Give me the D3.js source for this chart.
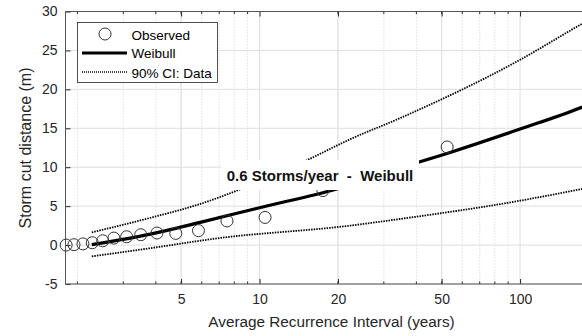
<!DOCTYPE html>
<html><head><meta charset="utf-8">
<script src="https://cdn.jsdelivr.net/npm/d3@7"></script>
<style>
html,body{margin:0;padding:0;background:#fff;}
svg{display:block;font-family:"Liberation Sans",Arial,sans-serif;}
</style></head>
<body><svg id="c" width="582" height="336"></svg>
<script>
// ---- data ----
const obsARI = [52.5, 17.5, 10.5, 7.5, 5.83, 4.77, 4.04, 3.5, 3.09, 2.76, 2.5, 2.28, 2.1, 1.94, 1.81];
const obsCut = [12.6, 7.0, 3.55, 3.1, 1.85, 1.5, 1.55, 1.33, 1.07, 0.9, 0.55, 0.3, 0.15, 0.05, 0.0];
const fitARI = [2.27, 3.81, 5.92, 10, 19.8, 41.3, 53.9, 100, 172.5, 200];
const fitCut = [0.05, 1.4, 2.92, 4.8, 7.2, 10.7, 11.9, 14.9, 17.7, 18.6];
const ciUpARI = [2.27, 3.81, 5.92, 8.56, 15.2, 22.3, 34.6, 100, 172.5, 200];
const ciUpCut = [1.63, 3.5, 5.28, 7.25, 10.9, 13.6, 16.3, 23.8, 28.4, 29.6];
const ciLoARI = [2.27, 3.81, 6.87, 22.3, 34.6, 100, 172.5, 200];
const ciLoCut = [-1.45, -0.4, 0.86, 2.5, 3.35, 5.7, 7.2, 7.6];
const xTicks = [5, 10, 20, 50, 100];
const xTickLabels = ["5", "10", "20", "50", "100"];
const xMinor = [2,3,4,5,6,7,8,9,20,30,40,50,60,70,80,90,200];
const yTicks = [-5, 0, 5, 10, 15, 20, 25, 30];
const yTickLabels = ["-5", "0", "5", "10", "15", "20", "25", "30"];
const legendLabels = ["Observed", "Weibull", "90% CI: Data"];
const annotation = "0.6 Storms/year  -  Weibull";

// ---- layout ----
const L = 65.5, R = 598.5, T = 11.5, B = 284;
const svg = d3.select("#c");
const x = d3.scaleLog().domain([1.8, 200]).range([L, R]);
const y = d3.scaleLinear().domain([-5, 30]).range([B, T]);
const ink = "#262626";

svg.append("defs").append("clipPath").attr("id","clip")
  .append("rect").attr("x",L).attr("y",T).attr("width",R-L).attr("height",B-T);

// grid
const g = svg.append("g");
g.selectAll(".mg").data(xMinor).join("line")
  .attr("x1",d=>x(d)).attr("x2",d=>x(d)).attr("y1",T).attr("y2",B)
  .attr("stroke","#cfcfcf").attr("stroke-width",1).attr("stroke-dasharray","1,2");
g.selectAll(".xg").data(xTicks).join("line")
  .attr("x1",d=>x(d)).attr("x2",d=>x(d)).attr("y1",T).attr("y2",B)
  .attr("stroke","#dedede").attr("stroke-width",1);
g.selectAll(".yg").data(yTicks).join("line")
  .attr("x1",L).attr("x2",R).attr("y1",d=>y(d)).attr("y2",d=>y(d))
  .attr("stroke","#dedede").attr("stroke-width",1);

// axes
const xAxisB = d3.axisBottom(x).tickValues(xTicks).tickFormat((d,i)=>xTickLabels[i]).tickSize(-5).tickPadding(10);
const gx = svg.append("g").attr("transform",`translate(0,${B})`).call(xAxisB);
gx.select(".domain").remove();
gx.selectAll("line").attr("stroke",ink);
gx.selectAll("text").attr("font-size",14).attr("fill",ink).attr("font-family","Liberation Sans, Arial, sans-serif");
// minor ticks bottom/top
svg.append("g").selectAll("line").data(xMinor).join("line")
  .attr("x1",d=>x(d)).attr("x2",d=>x(d)).attr("y1",B).attr("y2",B-2.5).attr("stroke",ink);
svg.append("g").selectAll("line").data(xMinor).join("line")
  .attr("x1",d=>x(d)).attr("x2",d=>x(d)).attr("y1",T).attr("y2",T+2.5).attr("stroke",ink);
const gxt = svg.append("g").attr("transform",`translate(0,${T})`).call(d3.axisTop(x).tickValues(xTicks).tickFormat("").tickSize(-5));
gxt.select(".domain").remove();
gxt.selectAll("line").attr("stroke",ink);

const gy = svg.append("g").attr("transform",`translate(${L},0)`)
  .call(d3.axisLeft(y).tickValues(yTicks).tickFormat((d,i)=>yTickLabels[i]).tickSize(-5).tickPadding(8));
gy.select(".domain").remove();
gy.selectAll("line").attr("stroke",ink);
gy.selectAll("text").attr("font-size",14).attr("fill",ink).attr("font-family","Liberation Sans, Arial, sans-serif");

// box lines
svg.append("path").attr("d",`M${L},${B}H${R}M${L},${B}V${T}H${R}`)
  .attr("fill","none").attr("stroke","#555").attr("stroke-width",1);

// series
const plot = svg.append("g").attr("clip-path","url(#clip)");
const mk = (xs, ys) => xs.map((v,i)=>[v, ys[i]]);
const line = d3.line().x(d=>x(d[0])).y(d=>y(d[1])).curve(d3.curveMonotoneX);
plot.append("path").datum(mk(ciUpARI, ciUpCut)).attr("d",line)
  .attr("fill","none").attr("stroke","#000").attr("stroke-width",1.8).attr("stroke-dasharray","1.5,1.1");
plot.append("path").datum(mk(ciLoARI, ciLoCut)).attr("d",line)
  .attr("fill","none").attr("stroke","#000").attr("stroke-width",1.8).attr("stroke-dasharray","1.5,1.1");
plot.append("path").datum(mk(fitARI, fitCut)).attr("d",line)
  .attr("fill","none").attr("stroke","#000").attr("stroke-width",3.2);
svg.append("g").selectAll("circle").data(mk(obsARI, obsCut)).join("circle")
  .attr("cx",d=>x(d[0])).attr("cy",d=>y(d[1])).attr("r",6)
  .attr("fill","none").attr("stroke","#333").attr("stroke-width",1);

// annotation box
svg.append("rect").attr("x",221).attr("y",160).attr("width",198).attr("height",30).attr("fill","#fff");
svg.append("text").attr("x",320).attr("y",181).attr("text-anchor","middle")
  .attr("font-size",15).attr("font-weight","bold").attr("fill","#111")
  .style("white-space","pre").text(annotation);

// legend
const lg = svg.append("g");
lg.append("rect").attr("x",77.5).attr("y",22.5).attr("width",140).attr("height",60)
  .attr("fill","#fff").attr("stroke",ink).attr("stroke-width",0.8);
lg.append("circle").attr("cx",105).attr("cy",34).attr("r",6).attr("fill","none").attr("stroke","#333");
lg.append("line").attr("x1",82).attr("x2",127).attr("y1",53).attr("y2",53).attr("stroke","#000").attr("stroke-width",3.2);
lg.append("line").attr("x1",82).attr("x2",127).attr("y1",72).attr("y2",72).attr("stroke","#000").attr("stroke-width",1.3).attr("stroke-dasharray","1,1");
lg.selectAll("text").data(legendLabels).join("text")
  .attr("x",131.5).attr("y",(d,i)=>[39.5,58,78][i]).attr("font-size",13.5).attr("fill","#000").text(d=>d);

// axis labels
svg.append("text").attr("x",(208+455)/2).attr("y",327).attr("text-anchor","middle")
  .attr("font-size",15.3).attr("fill",ink).text("Average Recurrence Interval (years)");
svg.append("text").attr("transform","translate(31,148) rotate(-90)").attr("text-anchor","middle")
  .attr("font-size",16).attr("fill",ink).text("Storm cut distance (m)");
</script></body></html>
